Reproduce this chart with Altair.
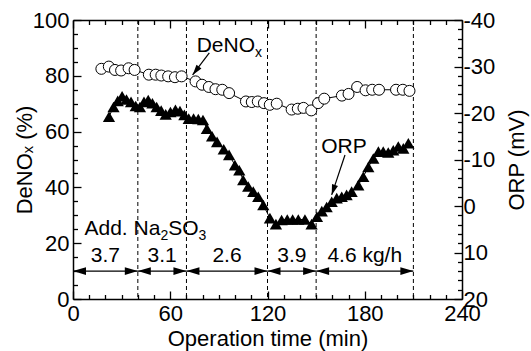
import altair as alt
import pandas as pd

# ---------------- data ----------------
denox_time = [17.5, 22.1, 25.9, 29.7, 34.3, 38.0, 46.8, 51.0, 54.5, 58.7, 62.9, 67.0,
              75.6, 79.6, 83.8, 87.9, 92.1, 96.3, 106.7, 110.3, 114.0, 117.8, 121.4, 125.7,
              134.9, 138.7, 142.2, 147.0, 151.2, 155.0, 165.9, 170.0, 175.3, 180.5, 184.6,
              188.8, 199.3, 203.5, 207.6]
denox_val = [82.5, 83.3, 82.1, 81.9, 82.7, 82.1, 80.4, 80.4, 80.1, 79.8, 79.5, 79.8,
             78.0, 76.8, 76.0, 75.2, 75.0, 73.8, 70.8, 70.6, 70.8, 70.2, 69.6, 70.0,
             67.9, 68.2, 68.5, 67.6, 70.2, 71.8, 72.9, 73.5, 76.0, 74.8, 75.0,
             75.0, 75.0, 75.0, 74.6]

orp_time = [22.2, 25.0, 27.6, 30.3, 33.0, 35.8, 38.7, 41.3, 43.8, 46.4, 49.0, 51.6,
            54.4, 57.2, 60.1, 63.2, 66.0, 68.7, 71.4, 74.4, 77.3, 80.2, 82.6, 85.8,
            88.9, 93.0, 96.3, 99.9, 102.6, 105.0, 108.1, 111.2, 114.3, 117.4, 121.5,
            125.2, 128.7, 132.2, 135.5, 139.0, 143.1, 147.2, 150.5, 153.5, 156.5, 159.6,
            162.7, 165.8, 168.8, 171.9, 176.0, 179.1, 182.2, 185.3, 188.4, 191.4, 194.5,
            197.6, 200.7, 203.8, 206.9]
orp_val = [-19.2, -21.3, -22.6, -23.6, -22.9, -22.4, -21.5, -21.3, -22.4, -22.8, -22.1, -21.3,
           -20.5, -19.7, -20.2, -20.7, -20.4, -19.6, -18.8, -18.8, -18.7, -18.5, -16.6, -15.0,
           -13.8, -12.2, -11.0, -8.8, -7.7, -5.6, -4.2, -3.1, -2.0, -0.2, 2.6,
           3.9, 3.0, 2.9, 2.9, 2.9, 2.9, 3.9, 2.3, 1.1, 0.2, -0.9,
           -1.7, -2.0, -2.4, -3.1, -4.5, -6.3, -8.4, -10.2, -11.7, -11.7, -11.5,
           -12.0, -12.8, -12.4, -13.5]

boundaries = [40, 70, 120, 150, 210]
seg_start = [0, 40, 70, 120, 150]
seg_end = [40, 70, 120, 150, 210]
rate_labels = ["3.7", "3.1", "2.6", "3.9", "4.6 kg/h"]
rate_pos = [20, 55, 95, 135, 180]
arrow_level = 10
rate_level = 15.5

add_text_time = 7.1
add_text_level = 22.9
denox_note_time = 76.3
denox_note_level = 88.7
denox_arrow = [84.1, 88.2, 73.8, 80.3]   # from t, from y, to t, to y
orp_note = [167.2, 54.6]
orp_arrow = [167.8, 51.6, 159.6, 37.3]

# ---------------- style ----------------
FONT = "Liberation Sans"
W, H = 389, 279
FS = 21
LFS = 22
SUB = 14
ARIAL = {'A': 0.667, 'd': 0.556, '.': 0.278, ' ': 0.278, 'N': 0.722, 'a': 0.556,
         'S': 0.667, 'O': 0.778, 'D': 0.722, 'e': 0.556, '2': 0.556, '3': 0.556}


def tw(s, size):
    return sum(ARIAL.get(c, 0.556) for c in s) * size


xscale = alt.Scale(domain=[0, 240], nice=False, zero=False)
yscale = alt.Scale(domain=[0, 100], nice=False, zero=False)
oscale = alt.Scale(domain=[-40, 20], reverse=True, nice=False, zero=False)


def tick(m):
    return {"expr": f"datum.value % {m} === 0 ? -8 : -4.5"}


def lab(m):
    return f"datum.value % {m} === 0 ? replace(datum.label, '\u2212', '-') : ''"


common = dict(grid=False, domainColor="black", domainWidth=1.5, tickColor="black",
              tickWidth=1.3, ticks=True, labelFont=FONT, labelFontSize=LFS, labelColor="black",
              titleFont=FONT, titleFontSize=22, titleFontWeight="normal", titleColor="black",
              labelOverlap=False, labelFlush=False)

xaxis_b = alt.Axis(values=list(range(0, 241, 10)), labelExpr=lab(60),
                   tickSize=tick(60), labelPadding=12, title="Operation time (min)",
                   titlePadding=1, **common)
xaxis_t = alt.Axis(orient="top", values=list(range(0, 241, 10)), labels=False,
                   tickSize=tick(60), title=None, **common)
yaxis_l = alt.Axis(values=list(range(0, 101, 5)), labelExpr=lab(20),
                   tickSize=tick(20), labelPadding=12, title="DeNOₓ (%)",
                   titlePadding=-4, **common)
yaxis_r = alt.Axis(orient="right", values=list(range(-40, 21, 2)), labelExpr=lab(10),
                   tickSize=tick(10), labelPadding=9, title="ORP (mV)",
                   titleAngle=270, titleBaseline="top", titlePadding=12, **common)


def X(field):
    return alt.X(field, type="quantitative", scale=xscale, axis=xaxis_b)


def Y(field):
    return alt.Y(field, type="quantitative", scale=yscale, axis=yaxis_l)


# ---------------- frames ----------------
df_den = pd.DataFrame({"t": denox_time, "v": denox_val})
df_orp = pd.DataFrame({"t": orp_time, "v": orp_val})
df_b = pd.DataFrame({"t": boundaries})
df_seg = pd.DataFrame({"s": seg_start, "e": seg_end, "lev": [arrow_level] * len(seg_start)})
df_heads_l = pd.DataFrame({"t": seg_start, "lev": [arrow_level] * len(seg_start)})
df_heads_r = pd.DataFrame({"t": seg_end, "lev": [arrow_level] * len(seg_end)})
df_rates = pd.DataFrame({"t": rate_pos, "lab": rate_labels, "lev": [rate_level] * len(rate_pos)})

HEAD = "M0,0L-1,-0.3L-1,0.3Z"

vlines = alt.Chart(df_b).mark_rule(color="black", strokeWidth=1, strokeDash=[4, 3]).encode(x=X("t"))
seg = alt.Chart(df_seg).mark_rule(color="black", strokeWidth=1.2).encode(
    x=X("s"), x2="e", y=Y("lev"))
hl = alt.Chart(df_heads_l).mark_point(shape=HEAD, filled=True, color="black", opacity=1,
                                      size=676, angle=180).encode(x=X("t"), y=Y("lev"))
hr = alt.Chart(df_heads_r).mark_point(shape=HEAD, filled=True, color="black", opacity=1,
                                      size=676, angle=0).encode(x=X("t"), y=Y("lev"))
rates = alt.Chart(df_rates).mark_text(font=FONT, fontSize=FS, color="black",
                                      align="center", baseline="middle").encode(
    x=X("t"), y=Y("lev"), text="lab:N")


def pieces(parts, t0, lev):
    """parts: list of (text, size, dy). Builds left-aligned text chunks."""
    layers = []
    off = 0.0
    for txt, size, dy in parts:
        d = pd.DataFrame({"t": [t0], "lev": [lev], "txt": [txt]})
        layers.append(alt.Chart(d).mark_text(font=FONT, fontSize=size, color="black",
                                             align="left", baseline="alphabetic",
                                             dx=off, dy=dy).encode(
            x=X("t"), y=Y("lev"), text="txt:N"))
        off += tw(txt, size)
    return layers


add_parts = pieces([("Add. Na", FS, 0), ("2", SUB, 5), ("SO", FS, 0), ("3", SUB, 5)],
                   add_text_time, add_text_level)
den_parts = pieces([("DeNO", FS, 0), ("x", SUB, 5)], denox_note_time, denox_note_level)

den_line = alt.Chart(df_den).mark_line(color="black", strokeWidth=1).encode(x=X("t"), y=Y("v"))
den_pts = alt.Chart(df_den).mark_point(shape="circle", filled=True, fill="white", stroke="black",
                                       strokeWidth=1, size=121, opacity=1).encode(x=X("t"), y=Y("v"))

df_da = pd.DataFrame({"t": [denox_arrow[0]], "y": [denox_arrow[1]],
                      "t2": [denox_arrow[2]], "y2": [denox_arrow[3]]})
den_arrow = alt.Chart(df_da).mark_rule(color="black", strokeWidth=1.2).encode(
    x=X("t"), y=Y("y"), x2="t2", y2="y2")
den_head = alt.Chart(df_da).mark_point(shape=HEAD, filled=True, color="black", opacity=1,
                                       size=440, angle=127.2).encode(x=X("t2"), y=Y("y2"))

df_oa = pd.DataFrame({"t": [orp_arrow[0]], "y": [orp_arrow[1]],
                      "t2": [orp_arrow[2]], "y2": [orp_arrow[3]]})
orp_arrow_l = alt.Chart(df_oa).mark_rule(color="black", strokeWidth=1.2).encode(
    x=X("t"), y=Y("y"), x2="t2", y2="y2")
orp_head = alt.Chart(df_oa).mark_point(shape=HEAD, filled=True, color="black", opacity=1,
                                       size=440, angle=108.4).encode(x=X("t2"), y=Y("y2"))
df_on = pd.DataFrame({"t": [orp_note[0]], "y": [orp_note[1]], "txt": ["ORP"]})
orp_txt = alt.Chart(df_on).mark_text(font=FONT, fontSize=FS, color="black", align="center",
                                     baseline="middle").encode(x=X("t"), y=Y("y"), text="txt:N")

left = alt.layer(vlines, seg, hl, hr, rates, *add_parts, den_line, den_pts,
                 den_arrow, den_head, *den_parts, orp_arrow_l, orp_head, orp_txt)

ox = alt.X("t:Q", scale=xscale, axis=xaxis_t)
oy = alt.Y("v:Q", scale=oscale, axis=yaxis_r)
orp_line = alt.Chart(df_orp).mark_line(color="black", strokeWidth=1).encode(x=ox, y=oy)
orp_pts = alt.Chart(df_orp).mark_point(shape="triangle-up", filled=True, color="black",
                                       opacity=1, size=150).encode(x=ox, y=oy)
right = alt.layer(orp_line, orp_pts)

chart = alt.layer(left, right).resolve_scale(x="independent", y="independent").resolve_axis(
    x="independent", y="independent").properties(
    width=W, height=H,
    autosize=alt.AutoSizeParams(type="none"),
    padding={"left": 73, "top": 20, "right": 69, "bottom": 52},
    background="white",
).configure_view(stroke=None)

chart.save("out.html", embed_options={"renderer": "svg", "actions": False})
